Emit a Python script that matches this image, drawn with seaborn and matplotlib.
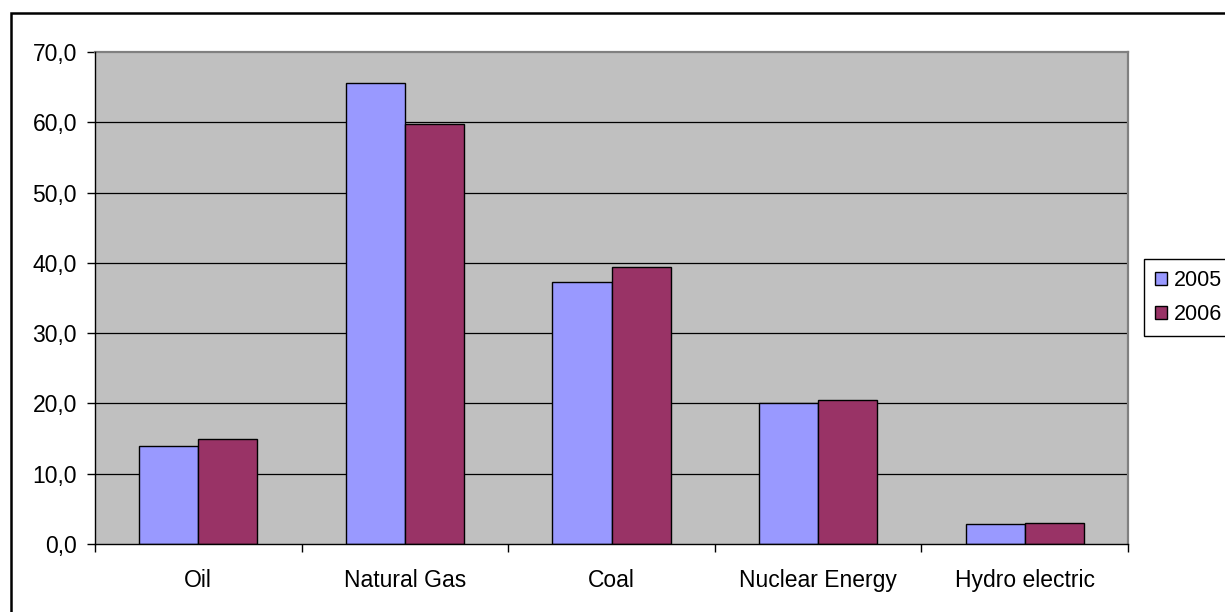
import matplotlib
matplotlib.use("Agg")
import matplotlib.pyplot as plt
from matplotlib.patches import Rectangle, Patch
from matplotlib.ticker import FuncFormatter, FixedLocator
import seaborn as sns
import pandas as pd

# Energy sources and yearly values
sources = ["Oil", "Natural Gas", "Coal", "Nuclear Energy", "Hydro electric"]
years = ["2005", "2006"]
values_2005 = [14.0, 65.6, 37.3, 20.0, 2.8]
values_2006 = [15.0, 59.7, 39.4, 20.5, 3.0]
colors = ["#9999FF", "#993366"]
y_ticks = [0, 10, 20, 30, 40, 50, 60, 70]

df = pd.DataFrame({
    "source": sources * 2,
    "year": [years[0]] * len(sources) + [years[1]] * len(sources),
    "value": values_2005 + values_2006,
})

sns.set_theme(style="white")
plt.rcParams["font.family"] = ["Liberation Sans", "DejaVu Sans"]
plt.rcParams["text.color"] = "black"
plt.rcParams["xtick.color"] = "black"
plt.rcParams["ytick.color"] = "black"

FS = 16.5
W, H = 1225, 612
fig = plt.figure(figsize=(W / 100, H / 100), dpi=100)
fig.patch.set_facecolor("white")
ax = fig.add_axes([95 / W, 1 - 544 / H, (1128 - 95) / W, (544 - 52) / H])
ax.set_facecolor("#C0C0C0")

sns.barplot(data=df, x="source", y="value", hue="year", hue_order=years,
            order=sources, palette=colors, width=2 / 3.5, gap=0,
            edgecolor="black", linewidth=1.0, saturation=1, ax=ax,
            legend=False, zorder=3)

ax.set_xlim(-0.5, len(sources) - 0.5)
ax.set_ylim(0, 70)
ax.set_xlabel("")
ax.set_ylabel("")

# horizontal grid
for v in y_ticks[1:-1]:
    ax.axhline(v, color="black", lw=0.9, zorder=1)

ax.yaxis.set_major_locator(FixedLocator(y_ticks))
ax.yaxis.set_major_formatter(FuncFormatter(lambda v, p: f"{v:.1f}".replace(".", ",")))
ax.tick_params(axis="y", which="major", direction="out", length=6, width=1,
               color="black", pad=7, labelsize=FS, labelcolor="black", left=True)

ax.set_xticks(range(len(sources)))
ax.set_xticklabels(sources)
ax.set_xticks([i - 0.5 for i in range(len(sources) + 1)], minor=True)
ax.tick_params(axis="x", which="major", length=0, pad=18, labelsize=FS,
               labelcolor="black")
ax.tick_params(axis="x", which="minor", direction="out", length=6, width=1,
               color="black", bottom=True)

for s in ["left", "bottom"]:
    ax.spines[s].set_color("black")
    ax.spines[s].set_linewidth(1.0)
    ax.spines[s].set_zorder(4)
for s in ["top", "right"]:
    ax.spines[s].set_color("#808080")
    ax.spines[s].set_linewidth(1.6)
    ax.spines[s].set_visible(True)

# legend
handles = [Patch(facecolor=c, edgecolor="black", linewidth=1.0) for c in colors]
leg = fig.legend(handles, years, loc="upper left",
                 bbox_to_anchor=(1144 / W, 1 - 259 / H), borderaxespad=0,
                 fontsize=15.5, frameon=True, fancybox=False, edgecolor="black",
                 framealpha=1, handlelength=0.55, handleheight=0.55,
                 handletextpad=0.35, labelspacing=0.62, borderpad=0.5)
leg.get_frame().set_linewidth(1.0)

# chart area frame
fig.patches.append(Rectangle((10.5 / W, -0.2), 1.5, 1.2 - 13 / H,
                             transform=fig.transFigure, fill=False,
                             edgecolor="black", lw=1.8, zorder=0))

fig.savefig("out.png", dpi=100)
